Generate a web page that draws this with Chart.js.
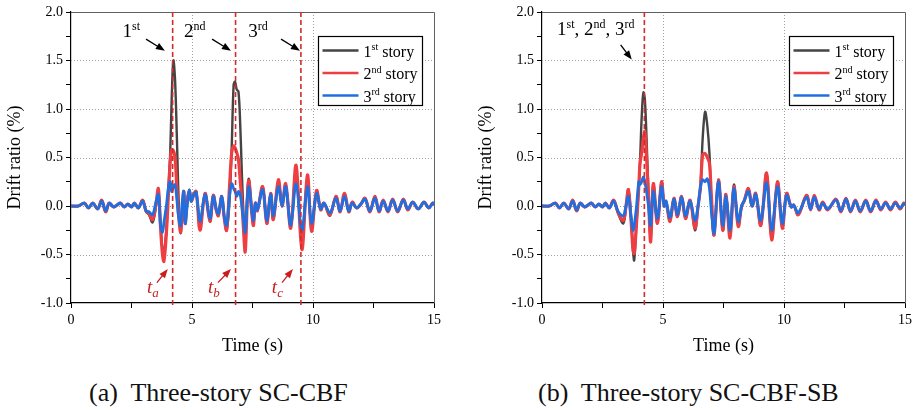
<!DOCTYPE html>
<html>
<head>
<meta charset="utf-8">
<script src="https://cdn.jsdelivr.net/npm/chart.js@4.4.1/dist/chart.umd.min.js"></script>
<style>
    body { margin: 0; background: #fff; width: 916px; height: 410px; position: relative; overflow: hidden; font-family: 'Liberation Serif', serif; }
    canvas { position: absolute; top: 0; }
    #chartA { left: 0; }
    #chartB { left: 458px; }
    .caption { position: absolute; top: 380px; font-size: 26px; line-height: 26px; white-space: pre; color: #111; }
</style>
</head>
<body>
<canvas id="chartA" width="458" height="365"></canvas>
<canvas id="chartB" width="458" height="365"></canvas>
<div class="caption" style="left:89px">(a)  Three-story SC-CBF</div>
<div class="caption" style="left:538px">(b)  Three-story SC-CBF-SB</div>
<script>
// (a) SC-CBF time history
const timeA = [0, 0.3, 0.55, 0.72, 0.9, 1.1, 1.27, 1.43, 1.58, 1.76,
    1.9, 2.04, 2.2, 2.35, 2.5, 2.62, 2.78, 2.96, 3.1, 3.22,
    3.37, 3.5, 3.61, 3.7, 3.78, 3.84, 3.95, 4.03, 4.1, 4.16,
    4.23, 4.3, 4.37, 4.45, 4.53, 4.6, 4.66, 4.72, 4.8, 4.89,
    4.97, 5.05, 5.17, 5.33, 5.54, 5.74, 5.88, 6.0, 6.09, 6.23,
    6.33, 6.43, 6.55, 6.64, 6.72, 6.78, 6.85, 6.92, 6.99, 7.06,
    7.13, 7.2, 7.34, 7.53, 7.62, 7.7, 7.92, 8.09, 8.25, 8.36,
    8.57, 8.72, 8.87, 9.08, 9.3, 9.54, 9.77, 9.94, 10.15, 10.32,
    10.45, 10.7, 10.95, 11.12, 11.3, 11.48, 11.62, 11.8, 11.98, 12.15,
    12.35, 12.56, 12.73, 12.9, 13.1, 13.29, 13.5, 13.73, 13.92, 14.12,
    14.35, 14.59, 14.78, 14.95, 15];
const storyA1 = [0, 0, 0.03, -0.02, 0.03, -0.03, 0.06, -0.06, 0.03, -0.01,
    0.01, 0.03, -0.01, 0.02, -0.01, 0.03, -0.02, 0.06, -0.06, -0.09,
    -0.17, -0.02, 0.15, -0.18, -0.45, -0.5, -0.2, 0.2, 0.55, 1.1,
    1.5, 1.3, 0.75, 0.05, -0.28, -0.05, 0.15, -0.15, 0.05, 0.17,
    0.05, 0.12, 0.15, -0.22, 0.13, -0.16, 0.11, -0.04, -0.1, 0.1,
    -0.12, -0.25, 0.05, 0.6, 1.25, 1.28, 1.2, 1.18, 0.86, 0.34,
    -0.08, -0.32, 0.28, -0.18, 0.03, -0.05, 0.2, -0.18, 0.13, -0.14,
    0.25, 0.0, 0.22, -0.2, 0.35, -0.35, 0.28, -0.22, 0.15, -0.04,
    0.03, -0.1, 0.1, -0.06, 0.13, -0.06, 0.04, -0.02, 0.02, 0.08,
    -0.06, 0.1, -0.06, 0.06, -0.06, 0.07, -0.06, 0.07, -0.04, 0.04,
    -0.03, 0.04, -0.02, 0.03, 0.01];
const storyA2 = [0, 0, 0.03, -0.02, 0.03, -0.03, 0.06, -0.06, 0.03, -0.01,
    0.01, 0.03, -0.01, 0.02, -0.01, 0.03, -0.02, 0.06, -0.05, -0.08,
    -0.14, 0.0, 0.18, -0.22, -0.5, -0.57, -0.25, 0.15, 0.45, 0.58,
    0.57, 0.5, 0.2, -0.1, -0.27, -0.05, 0.15, -0.18, 0.05, 0.16,
    0.05, 0.1, 0.15, -0.25, 0.13, -0.16, 0.11, -0.04, -0.1, 0.1,
    -0.12, -0.25, 0.2, 0.55, 0.62, 0.6, 0.55, 0.48, 0.27, 0.05,
    -0.25, -0.47, 0.26, -0.2, 0.03, -0.05, 0.2, -0.18, 0.13, -0.14,
    0.27, 0.0, 0.23, -0.23, 0.42, -0.45, 0.32, -0.26, 0.16, -0.04,
    0.03, -0.09, 0.1, -0.06, 0.13, -0.06, 0.04, -0.02, 0.02, 0.08,
    -0.06, 0.1, -0.06, 0.06, -0.06, 0.07, -0.06, 0.07, -0.04, 0.04,
    -0.03, 0.04, -0.02, 0.03, 0.01];
const storyA3 = [0, 0, 0.03, -0.02, 0.03, -0.03, 0.05, -0.05, 0.03, -0.01,
    0.01, 0.03, -0.01, 0.02, -0.01, 0.03, -0.02, 0.05, -0.05, -0.06,
    -0.09, 0.03, 0.12, -0.2, -0.27, -0.17, 0.02, 0.2, 0.25, 0.15,
    0.2, 0.22, 0.08, -0.12, -0.2, 0.05, 0.15, -0.18, 0.0, 0.16,
    0.05, 0.1, 0.14, -0.16, 0.12, -0.13, 0.1, -0.03, -0.08, 0.1,
    -0.1, -0.2, 0.1, 0.23, 0.18, 0.15, 0.1, 0.15, 0.12, 0.0,
    -0.15, -0.27, 0.2, -0.15, 0.03, -0.04, 0.17, -0.15, 0.12, -0.1,
    0.2, 0.0, 0.2, -0.2, 0.23, -0.25, 0.2, -0.18, 0.13, -0.03,
    0.03, -0.07, 0.08, -0.05, 0.1, -0.05, 0.03, -0.02, 0.02, 0.07,
    -0.05, 0.08, -0.05, 0.05, -0.05, 0.06, -0.05, 0.06, -0.03, 0.04,
    -0.03, 0.04, -0.02, 0.03, 0.01];

// (b) SC-CBF-SB time history
const timeB = [0, 0.3, 0.55, 0.72, 0.9, 1.1, 1.27, 1.43, 1.58, 1.76,
    1.9, 2.04, 2.2, 2.35, 2.5, 2.62, 2.78, 2.96, 3.15, 3.36,
    3.47, 3.57, 3.68, 3.76, 3.81, 3.9, 4.0, 4.05, 4.12, 4.19,
    4.25, 4.32, 4.4, 4.49, 4.6, 4.77, 4.94, 5.05, 5.12, 5.29,
    5.45, 5.6, 5.77, 5.93, 6.12, 6.32, 6.45, 6.55, 6.64, 6.74,
    6.83, 6.92, 7.0, 7.11, 7.29, 7.47, 7.6, 7.77, 7.93, 8.11,
    8.25, 8.35, 8.53, 8.68, 8.83, 9.04, 9.28, 9.49, 9.73, 9.93,
    10.11, 10.3, 10.4, 10.59, 10.93, 11.1, 11.25, 11.45, 11.6, 11.8,
    12.15, 12.35, 12.56, 12.75, 12.95, 13.15, 13.38, 13.58, 13.8, 14.0,
    14.2, 14.4, 14.6, 14.8, 14.95, 15];
const storyB1 = [0, 0, 0.03, -0.02, 0.03, -0.03, 0.06, -0.05, 0.03, -0.01,
    0.01, 0.03, -0.01, 0.02, -0.01, 0.03, -0.02, 0.06, -0.08, -0.18,
    -0.02, 0.16, -0.1, -0.45, -0.56, -0.2, 0.2, 0.45, 0.92, 1.17,
    1.1, 0.7, 0.13, -0.32, 0.23, -0.18, 0.25, 0.0, 0.05, -0.16,
    0.08, -0.11, 0.1, -0.13, 0.06, -0.25, 0.0, 0.2, 0.7, 0.97,
    0.83, 0.54, 0.0, -0.3, 0.27, -0.25, 0.12, -0.3, 0.22, -0.2,
    0.0, 0.05, 0.18, 0.0, 0.13, -0.2, 0.34, -0.33, 0.25, -0.2,
    0.13, -0.01, 0.01, -0.09, 0.11, -0.04, 0.11, -0.04, 0.04, -0.04,
    0.07, -0.06, 0.08, -0.06, 0.06, -0.06, 0.06, -0.06, 0.06, -0.04,
    0.04, -0.04, 0.04, -0.03, 0.03, 0.01];
const storyB2 = [0, 0, 0.03, -0.02, 0.03, -0.03, 0.06, -0.05, 0.03, -0.01,
    0.01, 0.03, -0.01, 0.02, -0.01, 0.03, -0.02, 0.06, -0.07, -0.15,
    0.0, 0.17, -0.15, -0.45, -0.49, -0.2, 0.2, 0.44, 0.55, 0.7,
    0.77, 0.5, 0.1, -0.37, 0.23, -0.18, 0.25, 0.0, 0.05, -0.16,
    0.08, -0.11, 0.1, -0.13, 0.06, -0.23, 0.0, 0.2, 0.53, 0.54,
    0.5, 0.44, 0.1, -0.3, 0.27, -0.25, 0.12, -0.33, 0.2, -0.21,
    0.0, 0.05, 0.18, 0.0, 0.13, -0.2, 0.34, -0.35, 0.25, -0.23,
    0.13, -0.01, 0.01, -0.09, 0.11, -0.04, 0.11, -0.04, 0.04, -0.04,
    0.07, -0.06, 0.08, -0.06, 0.06, -0.06, 0.06, -0.06, 0.06, -0.04,
    0.04, -0.04, 0.04, -0.03, 0.03, 0.01];
const storyB3 = [0, 0, 0.03, -0.02, 0.03, -0.03, 0.05, -0.04, 0.03, -0.01,
    0.01, 0.03, -0.01, 0.02, -0.01, 0.03, -0.02, 0.05, -0.06, -0.1,
    0.0, 0.1, -0.12, -0.25, -0.2, -0.02, 0.25, 0.22, 0.25, 0.3,
    0.25, 0.15, 0.0, -0.2, 0.15, -0.13, 0.2, 0.0, 0.05, -0.12,
    0.07, -0.09, 0.09, -0.1, 0.05, -0.15, 0.0, 0.2, 0.27, 0.25,
    0.28, 0.18, -0.05, -0.28, 0.25, -0.2, 0.1, -0.25, 0.18, -0.16,
    0.0, 0.05, 0.15, 0.0, 0.12, -0.15, 0.24, -0.25, 0.2, -0.18,
    0.11, -0.01, 0.01, -0.07, 0.09, -0.03, 0.09, -0.03, 0.03, -0.03,
    0.06, -0.05, 0.07, -0.05, 0.05, -0.05, 0.05, -0.05, 0.05, -0.03,
    0.03, -0.03, 0.03, -0.02, 0.02, 0.01];

// instants marked with red dashed lines (s)
const markerTimesA = [4.2, 6.8, 9.5];
const markerTimesB = [4.23];

const gridX = [5, 10];
const gridY = [-0.5, 0, 0.5, 1.0, 1.5];
const storyLabels = [['1', 'st'], ['2', 'nd'], ['3', 'rd']];
const storyColors = ['#444444', '#ef3e42', '#1f6fe0'];

const FONT = "'Liberation Serif', 'Times New Roman', serif";

function drawRich(ctx, x, y, parts, size, color, align) {
    // parts: [text, kind] where kind is '', 'sup', 'it', 'itsub'
    const fontOf = (kind) => {
        if (kind === 'sup') return `${Math.round(size * 0.62)}px ${FONT}`;
        if (kind === 'it') return `italic ${size}px ${FONT}`;
        if (kind === 'itsub') return `italic ${Math.round(size * 0.7)}px ${FONT}`;
        return `${size}px ${FONT}`;
    };
    const widths = parts.map(p => { ctx.font = fontOf(p[1]); return ctx.measureText(p[0]).width; });
    const total = widths.reduce((a, b) => a + b, 0);
    let cx = align === 'center' ? x - total / 2 : x;
    ctx.fillStyle = color;
    ctx.textBaseline = 'alphabetic';
    ctx.textAlign = 'left';
    parts.forEach((p, i) => {
        ctx.font = fontOf(p[1]);
        let dy = 0;
        if (p[1] === 'sup') dy = -size * 0.4;
        if (p[1] === 'itsub') dy = size * 0.18;
        ctx.fillText(p[0], cx, y + dy);
        cx += widths[i];
    });
}

function drawArrow(ctx, x1, y1, x2, y2, color) {
    const ang = Math.atan2(y2 - y1, x2 - x1);
    const len = 9, half = 3.5;
    ctx.strokeStyle = color;
    ctx.fillStyle = color;
    ctx.lineWidth = 1.3;
    ctx.beginPath();
    ctx.moveTo(x1, y1);
    ctx.lineTo(x2 - Math.cos(ang) * len * 0.8, y2 - Math.sin(ang) * len * 0.8);
    ctx.stroke();
    ctx.beginPath();
    ctx.moveTo(x2, y2);
    ctx.lineTo(x2 - Math.cos(ang) * len - Math.sin(ang) * half, y2 - Math.sin(ang) * len + Math.cos(ang) * half);
    ctx.lineTo(x2 - Math.cos(ang) * len + Math.sin(ang) * half, y2 - Math.sin(ang) * len - Math.cos(ang) * half);
    ctx.closePath();
    ctx.fill();
}

const overlayPlugin = {
    id: 'overlay',
    beforeDatasetsDraw(chart) {
        const { ctx, chartArea: a, scales: { x, y } } = chart;
        ctx.save();
        ctx.strokeStyle = '#a0a0a0';
        ctx.lineWidth = 1;
        ctx.setLineDash([1, 2]);
        gridX.forEach(v => {
            const px = Math.round(x.getPixelForValue(v)) + 0.5;
            ctx.beginPath(); ctx.moveTo(px, a.top); ctx.lineTo(px, a.bottom); ctx.stroke();
        });
        gridY.forEach(v => {
            const py = Math.round(y.getPixelForValue(v)) + 0.5;
            ctx.beginPath(); ctx.moveTo(a.left, py); ctx.lineTo(a.right, py); ctx.stroke();
        });
        ctx.setLineDash([]);
        ctx.strokeStyle = '#606060';
        ctx.beginPath();
        ctx.moveTo(a.left, Math.round(a.top) + 0.5);
        ctx.lineTo(Math.round(a.right) + 0.5, Math.round(a.top) + 0.5);
        ctx.lineTo(Math.round(a.right) + 0.5, a.bottom);
        ctx.stroke();
        ctx.restore();
    },
    afterDatasetsDraw(chart, args, opts) {
        const { ctx, chartArea: a, scales: { x, y } } = chart;
        ctx.save();
        // dashed instants
        ctx.strokeStyle = '#d42a2a';
        ctx.lineWidth = 1.6;
        ctx.setLineDash([5, 3]);
        opts.markers.forEach(t => {
            const px = x.getPixelForValue(t);
            ctx.beginPath(); ctx.moveTo(px, a.top); ctx.lineTo(px, a.bottom + 3); ctx.stroke();
        });
        ctx.setLineDash([]);

        // story annotations
        opts.notes.forEach(n => {
            drawRich(ctx, x.getPixelForValue(n.at[0]), y.getPixelForValue(n.at[1]), n.parts, n.size, n.color, 'left');
            drawArrow(ctx, x.getPixelForValue(n.from[0]), y.getPixelForValue(n.from[1]),
                x.getPixelForValue(n.to[0]), y.getPixelForValue(n.to[1]), n.color);
        });

        // legend box
        const bx = Math.round(a.right - 116) + 0.5, by = Math.round(a.top + 24) + 0.5;
        ctx.fillStyle = '#fff';
        ctx.fillRect(bx, by, 104, 69);
        ctx.strokeStyle = '#000';
        ctx.lineWidth = 1.2;
        ctx.strokeRect(bx, by, 104, 69);
        storyLabels.forEach((lab, i) => {
            const ly = by + 14 + i * 22.5;
            ctx.strokeStyle = storyColors[i];
            ctx.lineWidth = 2.5;
            ctx.beginPath(); ctx.moveTo(bx + 4, ly); ctx.lineTo(bx + 40, ly); ctx.stroke();
            drawRich(ctx, bx + 45, ly + 6, [[lab[0], ''], [lab[1], 'sup'], [' story', '']], 16, '#000', 'left');
        });
        ctx.restore();
    }
};

function makeChart(id, time, s1, s2, s3, padLeft, padRight, overlay) {
    const ctx = document.getElementById(id).getContext('2d');
    const series = [s1, s2, s3];
    const widths = [2.4, 3.2, 2.8];

    return new Chart(ctx, {
        type: 'line',
        data: {
            datasets: series.map((s, i) => ({
                label: storyLabels[i].join('') + ' story',
                data: time.map((t, k) => ({ x: t, y: s[k] })),
                borderColor: storyColors[i],
                borderWidth: widths[i],
                pointRadius: 0,
                tension: 0.35,
                borderJoinStyle: 'round',
                order: 3 - i,
            })),
        },
        options: {
            responsive: false,
            animation: false,
            events: [],
            layout: { padding: { left: padLeft, right: padRight, top: 12, bottom: 0 } },
            plugins: {
                legend: { display: false },
                tooltip: { enabled: false },
                overlay: overlay,
            },
            scales: {
                x: {
                    type: 'linear',
                    min: 0,
                    max: 15,
                    ticks: {
                        stepSize: 2.5,
                        autoSkip: false,
                        maxRotation: 0,
                        padding: 4,
                        color: '#000',
                        font: { family: FONT, size: 14 },
                        callback: (v) => (v % 5 === 0 ? String(v) : ''),
                    },
                    grid: { drawOnChartArea: false, tickLength: 5, tickColor: '#000' },
                    border: { color: '#000', width: 1.2 },
                    title: {
                        display: true,
                        text: 'Time (s)',
                        color: '#000',
                        font: { family: FONT, size: 18 },
                        padding: { top: 4, bottom: 8 },
                    },
                    afterFit: (scale) => { scale.height = 62; },
                },
                y: {
                    min: -1,
                    max: 2,
                    ticks: {
                        stepSize: 0.25,
                        autoSkip: false,
                        padding: 3,
                        color: '#000',
                        font: { family: FONT, size: 14 },
                        callback: (v) => (Math.round(v * 100) % 50 === 0 ? v.toFixed(1) : ''),
                    },
                    grid: { drawOnChartArea: false, tickLength: 5, tickColor: '#000' },
                    border: { color: '#000', width: 1.2 },
                    title: {
                        display: true,
                        text: 'Drift ratio (%)',
                        color: '#000',
                        font: { family: FONT, size: 18 },
                        padding: { top: 4, bottom: 4 },
                    },
                    afterFit: (scale) => { scale.width = 71; },
                },
            },
        },
        plugins: [overlayPlugin],
    });
}

document.addEventListener('DOMContentLoaded', () => {
    Chart.defaults.font.family = FONT;

    makeChart('chartA', timeA, storyA1, storyA2, storyA3, 0, 24, {
        markers: markerTimesA,
        notes: [
            { parts: [['1', ''], ['st', 'sup']], at: [2.13, 1.74], from: [3.1, 1.72], to: [3.88, 1.6], size: 19, color: '#000' },
            { parts: [['2', ''], ['nd', 'sup']], at: [4.67, 1.74], from: [5.83, 1.72], to: [6.61, 1.6], size: 19, color: '#000' },
            { parts: [['3', ''], ['rd', 'sup']], at: [7.32, 1.74], from: [8.68, 1.72], to: [9.46, 1.6], size: 19, color: '#000' },
            { parts: [['t', 'it'], ['a', 'itsub']], at: [3.14, -0.9], from: [3.55, -0.79], to: [4.0, -0.65], size: 19, color: '#c81e1e' },
            { parts: [['t', 'it'], ['b', 'itsub']], at: [5.66, -0.9], from: [6.07, -0.79], to: [6.61, -0.65], size: 19, color: '#c81e1e' },
            { parts: [['t', 'it'], ['c', 'itsub']], at: [8.3, -0.9], from: [8.72, -0.79], to: [9.17, -0.65], size: 19, color: '#c81e1e' },
        ],
    });

    makeChart('chartB', timeB, storyB1, storyB2, storyB3, 13, 11, {
        markers: markerTimesB,
        notes: [
            { parts: [['1', ''], ['st', 'sup'], [', 2', ''], ['nd', 'sup'], [', 3', ''], ['rd', 'sup']],
              at: [0.62, 1.76], from: [3.25, 1.66], to: [3.71, 1.51], size: 19, color: '#000' },
        ],
    });
});
</script>
</body>
</html>
